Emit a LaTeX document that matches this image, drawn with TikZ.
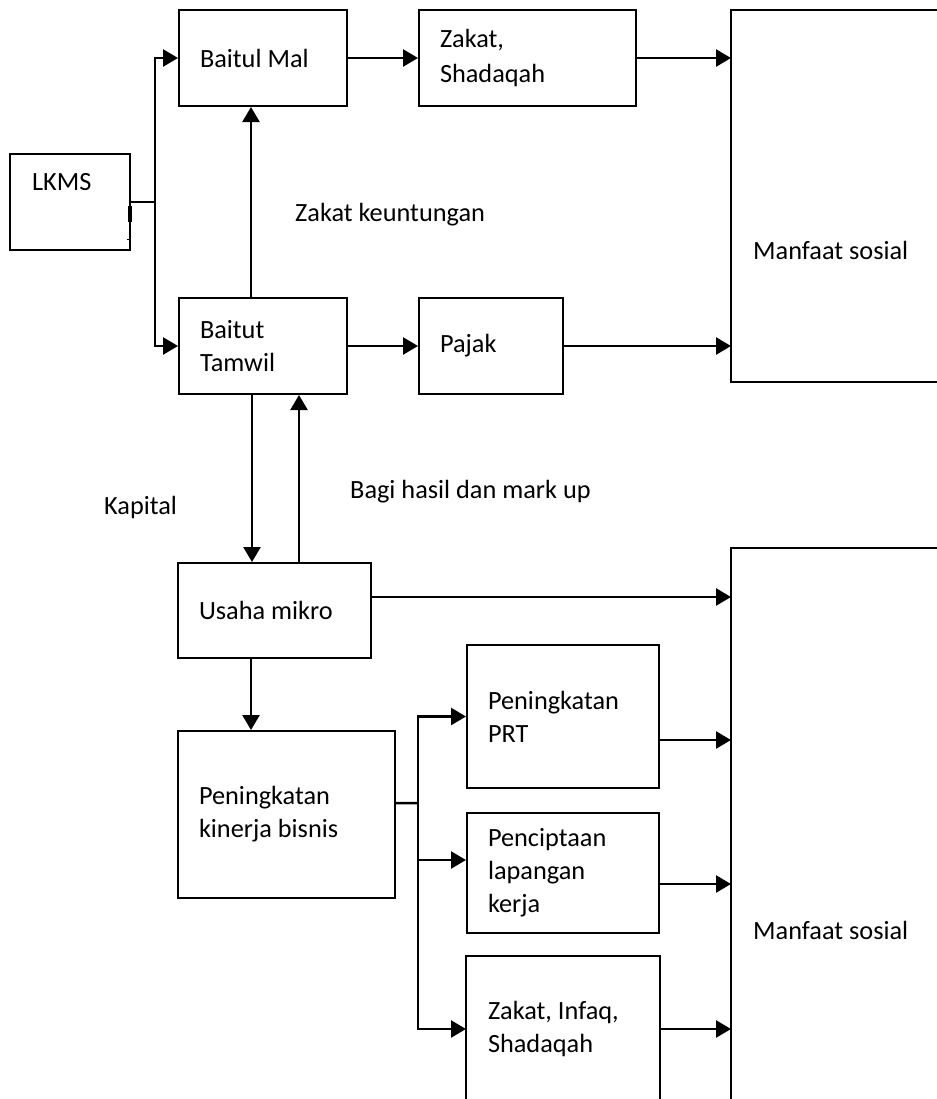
\documentclass[tikz,border=0pt]{standalone}
\usepackage{fontspec}
\setmainfont{Carlito}
\usetikzlibrary{arrows.meta}
\begin{document}
\begin{tikzpicture}[x=1bp,y=-1bp,
  txt/.style={font=\fontsize{26.4}{33}\selectfont},
  box/.style={txt, draw, line width=2bp, rectangle, inner xsep=21bp, inner ysep=0bp, align=flush left},
  openbox/.style={box, draw=none},
  lbl/.style={txt, inner sep=0pt, anchor=west},
  arr/.style={line width=2.5bp, -{Triangle[length=15bp,width=17bp]}},
  ln/.style={line width=2.5bp},
  frame/.style={line width=2bp}]
\fill[white] (0,0) rectangle (937,1099);
\useasboundingbox (0,0) rectangle (937,1099);
\clip (0,0) rectangle (937,1099);

% boxes
\node[box, minimum width=120bp, minimum height=96bp] (lkms) at (70,202) {};
\node[lbl] (lkmslbl) at (32,182) {LKMS};
\node[box, text width=126bp, minimum height=96bp] (bmal) at (263,58) {Baitul Mal};
\node[box, text width=175bp, minimum height=96bp] (zs) at (527.5,58) {Zakat,\\[2bp]Shadaqah};
\node[box, text width=126bp, minimum height=96bp] (tamwil) at (263,346) {Baitut\\Tamwil};
\node[box, text width=102bp, minimum height=96bp] (pajak) at (491,346) {Pajak};
\node[box, text width=151bp, minimum height=95bp] (usaha) at (274.5,610.5) {Usaha mikro};
\node[box, text width=175bp, minimum height=167bp] (pkb) at (286.5,814.5) {Peningkatan\\kinerja bisnis};
\node[box, text width=150bp, minimum height=143bp] (prt) at (563,716.5) {Peningkatan\\PRT};
\node[box, text width=150bp, minimum height=120bp] (pla) at (563,873) {Penciptaan\\lapangan\\kerja};
\node[openbox, text width=150bp, minimum height=144bp] (zis) at (563,1029) {Zakat, Infaq,\\Shadaqah};
\draw[frame] (zis.south west) -- (zis.north west) -- (zis.north east) -- (zis.south east);

\node[openbox, minimum width=260bp, minimum height=370bp, anchor=north west] (man1) at (731,10) {};
\draw[frame] (man1.north east) -- (man1.north west) -- (man1.south west) -- (man1.south east);
\node[lbl] (man1lbl) at (753,250) {Manfaat sosial};
\node[openbox, minimum width=260bp, minimum height=580bp, anchor=north west] (man2) at (731,548) {};
\draw[frame] (man2.north east) -- (man2.north west) -- (man2.south west);
\node[lbl] (man2lbl) at (753,930) {Manfaat sosial};

% LKMS right-edge marks
\draw[line width=3.2bp] (130,206) -- (130,222);
\draw[line width=1bp] (127,239) -- (130,239);

% labels
\node[lbl] (zk) at (295,215) {Zakat keuntungan};
\node[lbl] (kap) at (104,507) {Kapital};
\node[lbl] (bagi) at (350,492) {Bagi hasil dan mark up};

% helper coordinates
\coordinate (j1) at (155,202);
\coordinate (mx) at (251,0);
\coordinate (kx) at (252,0);
\coordinate (bx) at (299,0);
\coordinate (bus) at (418,803);

% connectors
\draw[ln] (lkms.east) -- (j1);
\draw[arr] (j1) |- (bmal.west);
\draw[arr] (j1) |- (tamwil.west);
\draw[arr] (bmal.east) -- (zs.west);
\draw[arr] (zs.east) -- (zs.east -| man1.west);
\draw[arr] (tamwil.north -| mx) -- (bmal.south -| mx);
\draw[arr] (tamwil.east) -- (pajak.west);
\draw[arr] (pajak.east) -- (pajak.east -| man1.west);
\draw[arr] (tamwil.south -| kx) -- (usaha.north -| kx);
\draw[arr] (usaha.north -| bx) -- (tamwil.south -| bx);
\draw[arr] ([yshift=13.5bp]usaha.east) -- ([yshift=13.5bp]usaha.east -| man2.west);
\draw[arr] (usaha.south -| mx) -- (pkb.north -| mx);
\draw[ln] ([yshift=11.5bp]pkb.east) -- (bus);
\draw[arr] (bus) |- (prt.west);
\draw[arr] (bus) |- ([yshift=13bp]pla.west);
\draw[arr] (bus) |- (zis.west);
\draw[arr] ([yshift=-23.5bp]prt.east) -- ([yshift=-23.5bp]prt.east -| man2.west);
\draw[arr] ([yshift=-11bp]pla.east) -- ([yshift=-11bp]pla.east -| man2.west);
\draw[arr] (zis.east) -- (zis.east -| man2.west);
\end{tikzpicture}
\end{document}
